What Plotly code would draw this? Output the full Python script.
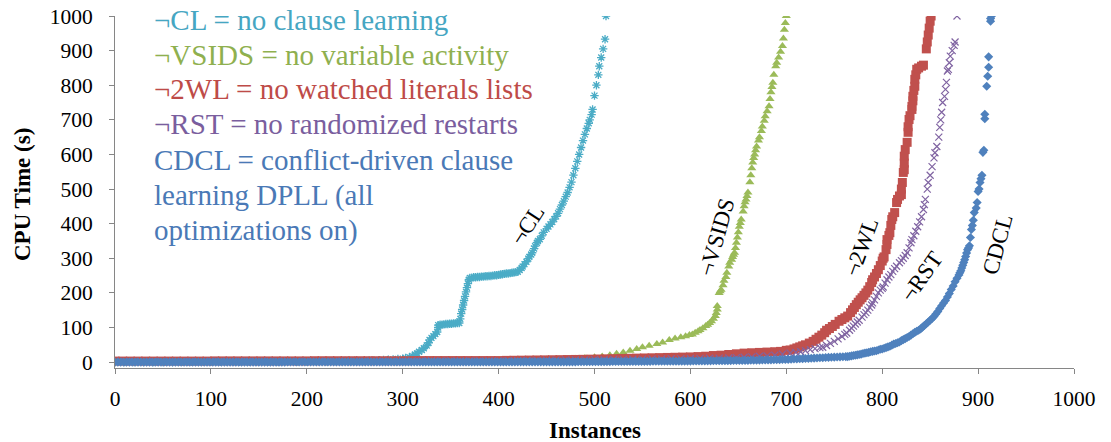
import plotly.graph_objects as go

FONT = "Liberation Serif"

# ---------------- data ----------------
# flat low part of each curve: CPU times at regularly spaced instance counts
cl_flat_start, cl_flat_step = 0, 10
cl_flat_y = [0.5, 0.5, 0.5, 0.5, 0.5, 0.5, 0.5, 1.0, 1.0, 1.0, 1.0, 1.0, 1.0, 1.0,
             1.5, 1.5, 1.5, 1.5, 1.5, 1.5, 1.5, 2.0, 2.5, 3.0, 3.5, 4.0, 4.0]
cl_x = [265, 270, 275, 280, 285, 290, 295, 300, 303, 307, 310, 313, 315, 317, 320, 322, 325,
        327, 328, 330, 332, 334, 336, 337, 337, 339, 341, 343, 345, 347, 349, 351, 353, 355,
        357, 359, 360, 361, 362, 363, 364, 365, 366, 367, 368, 369, 370, 372, 374, 376, 378,
        380, 382, 384, 386, 388, 390, 392, 394, 396, 398, 400, 402, 404, 406, 408, 410, 412,
        414, 416, 418, 420, 422, 424, 425, 427, 429, 431, 432, 434, 435, 437, 438, 440, 441,
        443, 445, 447, 450, 452, 454, 456, 458, 460, 462, 464, 466, 468, 470, 472, 474, 476,
        478, 480, 482, 484, 486, 488, 490, 492, 494, 495, 497, 498, 500, 502, 504, 505, 507,
        509, 511, 512]
cl_y = [4.5, 5, 5.5, 6, 7, 8, 9, 10, 12, 14, 18, 22, 25, 30, 35, 40, 48,
        56, 64, 70, 75, 81, 87, 100, 107, 108, 108, 109, 110, 110, 111, 111, 112, 112,
        113, 113, 125, 140, 152, 165, 178, 190, 203, 215, 227, 238, 243, 244, 245, 245, 246,
        246, 247, 247, 248, 248, 249, 249, 250, 251, 251, 252, 253, 254, 255, 256, 256, 257,
        258, 259, 260, 261, 266, 272, 276, 283, 290, 299, 304, 311, 316, 328, 335, 345, 350,
        355, 365, 375, 385, 392, 398, 405, 413, 421, 430, 442, 454, 465, 478, 490, 505, 520,
        540, 560, 580, 600, 620, 640, 658, 675, 690, 700, 715, 730, 770, 800, 830, 855, 880,
        905, 933, 1000]

vsids_flat_start, vsids_flat_step = 0, 10
vsids_flat_y = [1.0, 1.0, 1.0, 1.0, 1.0, 1.0, 1.0, 1.0, 1.0, 1.0,
                1.5, 1.5, 1.5, 1.5, 1.5, 1.5, 1.5, 1.5, 1.5, 1.5,
                2.0, 2.0, 2.0, 2.0, 2.0, 2.0, 2.0, 2.0, 2.0, 2.0,
                3.0, 3.0, 3.0, 3.0, 3.0, 3.0, 3.0, 3.0,
                4.0, 4.5, 5.0, 5.5, 6.0, 6.5, 7.0]
vsids_x = [450, 460, 470, 480, 490, 500, 508, 516, 523, 530, 537, 544, 550, 557, 565, 571,
           578, 584, 590, 595, 599, 602, 605, 608, 610, 613, 616, 618, 620, 622, 624, 626,
           627, 628, 628, 630, 631, 632, 634, 635, 637, 638, 640, 641, 643, 644, 645, 646,
           647, 648, 649, 650, 651, 652, 653, 655, 656, 657, 658, 659, 660, 662, 663, 664,
           665, 666, 667, 668, 669, 671, 672, 674, 675, 677, 678, 680, 682, 683, 684, 685,
           686, 687, 689, 690, 692, 694, 696, 697, 698, 699, 700]
vsids_y = [7.5, 8, 9, 10, 12, 14, 16, 20, 24, 28, 33, 38, 43, 47, 52, 57,
           64, 68, 72, 75, 78, 80, 85, 89, 93, 98, 104, 108, 113, 118, 125, 133,
           142, 152, 162, 200, 205, 209, 222, 235, 246, 258, 276, 287, 296, 304, 310, 316,
           330, 345, 360, 375, 391, 402, 412, 435, 450, 462, 470, 480, 490, 520, 540, 560,
           577, 590, 600, 612, 623, 640, 650, 668, 681, 697, 710, 725, 739, 760, 780, 795,
           807, 830, 855, 865, 880, 897, 913, 935, 960, 980, 1000]

wl_flat_start, wl_flat_step = 0, 8
wl_flat_y = [3.0, 3.0, 3.0, 3.0, 3.0, 3.0, 3.0, 3.0, 3.0, 3.0, 3.0, 3.0, 3.0,
             3.5, 3.5, 3.5, 3.5, 3.5, 3.5, 3.5, 3.5, 3.5, 3.5, 3.5, 3.5, 3.5,
             4.0, 4.0, 4.0, 4.0, 4.0, 4.0, 4.0, 4.0, 4.0, 4.0, 4.0, 4.0, 4.0,
             4.5, 4.5, 4.5, 4.5, 4.5, 4.5, 4.5, 4.5, 4.5, 4.5, 4.5, 4.5,
             5.0, 5.3, 5.6, 5.9, 6.2, 6.5, 6.8, 7.1, 7.4, 7.7,
             8.0, 8.5, 9.0, 9.5, 10.0, 10.5, 11.0, 11.5, 12.0, 12.5, 13.0, 13.5, 14.0, 14.5, 15.0,
             16, 17, 19, 20, 22]
wl_x = [648, 656, 664, 672, 680, 688, 694, 700, 704, 708, 711, 714, 717, 720, 724, 728, 731,
        734, 737, 740, 742, 745, 748, 751, 755, 758, 761, 764, 767, 769, 771, 773, 775, 777,
        779, 781, 783, 785, 787, 789, 790, 792, 794, 796, 798, 800, 801, 802, 804, 805, 805,
        807, 808, 809, 810, 811, 813, 815, 816, 818, 820, 820, 821, 822, 823, 823, 823, 824,
        826, 827, 827, 828, 829, 831, 831, 832, 832, 833, 834, 834, 835, 836, 838, 841, 843,
        846, 847, 848, 849, 850, 851]
wl_y = [24, 26, 27, 28, 29, 30, 31, 34, 35, 38, 41, 44, 47, 50, 55, 60, 66,
        72, 78, 85, 92, 97, 103, 109, 118, 123, 128, 133, 143, 151, 158, 166, 173, 180,
        186, 193, 200, 208, 218, 230, 238, 246, 256, 267, 279, 292, 300, 304, 325, 340, 354,
        366, 374, 395, 412, 420, 432, 461, 470, 480, 484, 500, 519, 548, 556, 575, 595, 614,
        635, 664, 680, 701, 712, 730, 739, 755, 768, 785, 797, 817, 830, 846, 850, 855, 858,
        905, 925, 945, 965, 985, 1000]

rst_flat_start, rst_flat_step = 0, 10
rst_flat_y = [2.0, 2.0, 2.0, 2.0, 2.0, 2.0, 2.0, 2.0, 2.0, 2.0,
              2.5, 2.5, 2.5, 2.5, 2.5, 2.5, 2.5, 2.5, 2.5, 2.5,
              3.0, 3.0, 3.0, 3.0, 3.0, 3.0, 3.0, 3.0, 3.0, 3.0,
              3.5, 3.5, 3.5, 3.5, 3.5, 3.5, 3.5, 3.5, 3.5, 3.5, 3.5,
              4.0, 4.3, 4.6, 5.0, 5.3, 5.6, 6.0, 6.3, 6.6, 7.0, 7.3, 7.6,
              8.0, 8.3, 8.6, 9.0, 9.3, 9.6, 10.0, 10.4, 10.8, 11.2, 11.6, 12.0]
rst_x = [648, 656, 664, 672, 680, 688, 696, 704, 710, 715, 720, 725, 730, 735, 738, 742, 746,
         750, 754, 758, 761, 763, 766, 768, 770, 772, 774, 776, 779, 781, 783, 785, 787, 789,
         790, 792, 794, 796, 798, 800, 801, 803, 805, 807, 809, 811, 813, 815, 818, 820, 822,
         824, 826, 828, 830, 831, 833, 835, 837, 839, 841, 843, 844, 845, 847, 848, 850, 852,
         854, 855, 857, 859, 860, 861, 862, 863, 865, 866, 867, 868, 869, 870, 871, 873, 875,
         876, 878]
rst_y = [13, 14, 15, 17, 18, 20, 23, 26, 28, 30, 33, 36, 39, 42, 43, 48, 54,
         60, 67, 74, 80, 84, 92, 98, 104, 110, 116, 121, 130, 137, 143, 150, 158, 165,
         171, 180, 190, 200, 208, 213, 217, 228, 238, 246, 253, 262, 270, 277, 287, 293, 300,
         308, 316, 330, 345, 354, 365, 378, 391, 405, 420, 441, 455, 470, 500, 519, 540, 565,
         590, 605, 623, 650, 678, 700, 722, 750, 768, 788, 808, 841, 846, 865, 884, 900, 915,
         925, 1000]

cdcl_flat_start, cdcl_flat_step = 0, 3
cdcl_flat_y = [0.0, 0.0, 0.0, 0.0, 0.0, 0.0, 0.0, 0.0, 0.0, 0.0, 0.0, 0.0, 0.0, 0.0, 0.0, 0.0, 0.0, 0.0, 0.0, 0.0,
               0.1, 0.1, 0.1, 0.1, 0.1, 0.1, 0.1, 0.1, 0.1, 0.1, 0.1, 0.1, 0.1, 0.1, 0.1, 0.1, 0.1, 0.1, 0.1, 0.1,
               0.1, 0.1, 0.1, 0.1, 0.1, 0.1, 0.1, 0.1, 0.1, 0.1, 0.1, 0.1, 0.1, 0.1, 0.1, 0.1, 0.1, 0.1, 0.1, 0.1,
               0.2, 0.2, 0.2, 0.2, 0.2, 0.2, 0.2, 0.2, 0.2, 0.2, 0.2, 0.2, 0.2, 0.2, 0.2, 0.2, 0.2, 0.2, 0.2, 0.2,
               0.3, 0.3, 0.3, 0.3, 0.3, 0.3, 0.3, 0.3, 0.3, 0.3, 0.3, 0.3, 0.3, 0.3, 0.3, 0.3, 0.3, 0.3, 0.3, 0.3,
               0.4, 0.4, 0.4, 0.4, 0.4, 0.4, 0.4, 0.4, 0.4, 0.4, 0.4, 0.4, 0.4, 0.4, 0.4, 0.4, 0.4, 0.4, 0.4, 0.4,
               0.5, 0.5, 0.5, 0.5, 0.5, 0.5, 0.5, 0.5, 0.5, 0.5, 0.5, 0.5, 0.5, 0.5, 0.5, 0.5, 0.5, 0.5, 0.5, 0.5,
               0.7, 0.7, 0.7, 0.7, 0.7, 0.7, 0.7, 0.7, 0.7, 0.7, 0.7, 0.7, 0.7, 0.7, 0.7, 0.7, 0.7, 0.7, 0.7, 0.7, 0.7,
               1.0, 1.0, 1.1, 1.1, 1.2, 1.2, 1.3, 1.3, 1.4, 1.4, 1.5, 1.5, 1.6, 1.6, 1.7, 1.7, 1.8, 1.8, 1.9, 1.9,
               2.0, 2.0, 2.1, 2.1, 2.2, 2.2, 2.3, 2.3, 2.4, 2.4, 2.5, 2.5, 2.6, 2.6, 2.7, 2.7, 2.8, 2.8, 2.9, 3.0,
               3.1, 3.2, 3.3, 3.4, 3.5, 3.6, 3.7, 3.8, 3.9, 4.0, 4.1, 4.2, 4.3, 4.4, 4.5, 4.6, 4.7, 4.8, 4.9, 5.0,
               5.2, 5.4, 5.6, 5.8, 6.0, 6.2, 6.4, 6.6, 6.8, 7.0, 7.2, 7.4, 7.6,
               8.0, 8.4, 8.8, 9.2, 9.6, 10.0, 10.4, 10.8, 11.2, 11.6, 12.0, 12.4, 12.8, 13.2, 13.6,
               14.0, 14.4, 14.8, 15.2, 15.6, 16.0]
cdcl_x = [764, 766, 768, 770, 772, 774, 776, 778, 780, 782, 784, 786, 788, 790, 792, 794, 796,
          798, 800, 802, 804, 806, 808, 810, 812, 814, 816, 818, 820, 822, 824, 826, 828, 830,
          832, 834, 836, 838, 840, 842, 844, 846, 848, 850, 852, 854, 856, 858, 860, 862, 864,
          866, 868, 870, 872, 874, 876, 878, 880, 881, 882, 883, 884, 885, 886, 887, 888, 889,
          890, 891, 892, 893, 894, 895, 896, 898, 899, 900, 901, 902, 903, 904, 905, 906, 907,
          907, 909, 910, 911, 911, 913, 913, 914]
cdcl_y = [16, 17, 18, 19, 20, 21, 22, 23, 25, 26, 27, 28, 30, 31, 32, 33, 35,
          37, 38, 40, 42, 44, 46, 49, 52, 54, 56, 58, 62, 65, 68, 71, 74, 78,
          82, 86, 89, 92, 96, 101, 106, 111, 116, 121, 126, 132, 139, 146, 155, 163, 171,
          178, 188, 198, 210, 220, 232, 242, 252, 258, 264, 272, 280, 288, 296, 305, 315, 325,
          330, 336, 360, 383, 395, 410, 432, 445, 461, 493, 500, 519, 530, 540, 606, 612, 703,
          716, 797, 826, 852, 882, 985, 993, 1000]

x_ticks = [0, 100, 200, 300, 400, 500, 600, 700, 800, 900, 1000]
y_ticks = [0, 100, 200, 300, 400, 500, 600, 700, 800, 900, 1000]

legend_lines = ["¬CL = no clause learning",
                "¬VSIDS = no variable activity",
                "¬2WL = no watched literals lists",
                "¬RST = no randomized restarts",
                "CDCL = conflict-driven clause",
                "learning DPLL (all",
                "optimizations on)"]

# ---------------- styling ----------------
C_CL, C_VS, C_WL, C_RST, C_CD = "#4BACC6", "#9BBB59", "#C0504D", "#8064A2", "#4F81BD"
T_CL, T_VS, T_WL, T_RST, T_CD = "#46A6C2", "#8FB04F", "#BE4B48", "#7A5E9E", "#4A79B6"

series = [
    ("¬CL", cl_flat_start, cl_flat_step, cl_flat_y, cl_x, cl_y,
     dict(symbol="asterisk-open", size=7, color=C_CL, line=dict(color=C_CL, width=1.3))),
    ("¬VSIDS", vsids_flat_start, vsids_flat_step, vsids_flat_y, vsids_x, vsids_y,
     dict(symbol="triangle-up", size=8, color=C_VS)),
    ("¬2WL", wl_flat_start, wl_flat_step, wl_flat_y, wl_x, wl_y,
     dict(symbol="square", size=9, color=C_WL)),
    ("¬RST", rst_flat_start, rst_flat_step, rst_flat_y, rst_x, rst_y,
     dict(symbol="x-thin-open", size=7, color=C_RST, line=dict(color=C_RST, width=1.2))),
    ("CDCL", cdcl_flat_start, cdcl_flat_step, cdcl_flat_y, cdcl_x, cdcl_y,
     dict(symbol="diamond", size=7, color=C_CD)),
]

fig = go.Figure()
for name, x0, dx, fy, rx, ry, mk in series:
    fig.add_trace(go.Scatter(y=fy, x0=x0, dx=dx, mode="markers", marker=mk,
                             name=name, legendgroup=name, showlegend=False,
                             hoverinfo="skip"))
    fig.add_trace(go.Scatter(x=rx, y=ry, mode="markers", marker=mk,
                             name=name, legendgroup=name, showlegend=False))

L, R, T, B = 115, 37, 16, 74
W, H = 1111, 442
PW, PH = W - L - R, H - T - B


def px_x(px):
    return (px - L) / PW


def px_y(py):
    return (H - B - py) / PH


ann = []
legend_colors = [T_CL, T_VS, T_WL, T_RST, T_CD, T_CD, T_CD]
legend_centers = [20, 55, 89, 124, 160, 195, 230]
for txt, col, cy in zip(legend_lines, legend_colors, legend_centers):
    ann.append(dict(text=txt, xref="paper", yref="paper", x=px_x(152), y=px_y(cy),
                    xanchor="left", yanchor="middle", showarrow=False,
                    font=dict(family=FONT, size=29, color=col)))

curve_labels = [("¬CL", 527, 225, -57), ("¬VSIDS", 717, 238, -74), ("¬2WL", 861, 247, -70),
                ("¬RST", 921, 277, -55), ("CDCL", 997, 245, -75)]
for txt, cx, cy, ang in curve_labels:
    ann.append(dict(text=txt, xref="paper", yref="paper", x=px_x(cx), y=px_y(cy),
                    xanchor="center", yanchor="middle", showarrow=False, textangle=ang,
                    font=dict(family=FONT, size=23, color="black")))

ann.append(dict(text="<b>Instances</b>", xref="paper", yref="paper", x=px_x(595), y=px_y(430),
                xanchor="center", yanchor="middle", showarrow=False,
                font=dict(family=FONT, size=23, color="black")))
ann.append(dict(text="<b>CPU Time (s)</b>", xref="paper", yref="paper", x=px_x(22), y=px_y(195),
                xanchor="center", yanchor="middle", showarrow=False, textangle=-90,
                font=dict(family=FONT, size=23, color="black")))

axis_common = dict(showgrid=False, zeroline=False, showline=True, linecolor="#868686",
                   linewidth=1, ticks="outside", ticklen=5, tickcolor="#868686",
                   tickfont=dict(family=FONT, size=21.5, color="black"))

fig.update_layout(
    width=W, height=H,
    margin=dict(l=L, r=R, t=T, b=B, autoexpand=False),
    paper_bgcolor="white", plot_bgcolor="white",
    showlegend=False,
    hovermode=False,
    xaxis=dict(range=[0, 1000], tickvals=x_ticks, ticklabelstandoff=6, **axis_common),
    yaxis=dict(range=[-17, 1000], tickvals=y_ticks, ticklabelstandoff=12, **axis_common),
    annotations=ann,
)

fig.write_html("out.html",
               config={"displayModeBar": False, "staticPlot": True},
               post_script="document.body.style.margin='0px';document.body.style.overflow='hidden';")
